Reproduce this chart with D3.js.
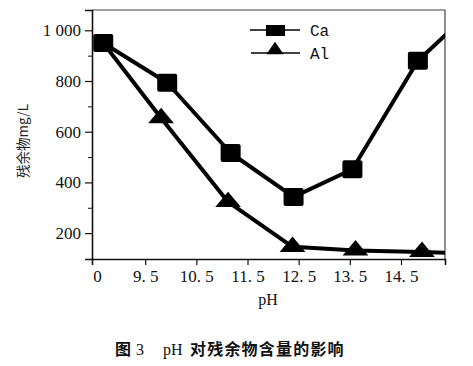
<!DOCTYPE html>
<html><head><meta charset="utf-8">
<script src="https://cdn.jsdelivr.net/npm/d3@7/dist/d3.min.js"></script>
<style>body{margin:0;background:#fff} text{white-space:pre}</style>
</head><body><svg id="c" width="473" height="366"></svg>
<script>
const caPH = [8.68, 9.93, 11.17, 12.4, 13.55, 14.83, 16.0];
const caVal = [950, 793, 516, 343, 452, 880, 1100];
const alPH = [8.68, 9.81, 11.12, 12.38, 13.61, 14.91, 16.0];
const alVal = [950, 654, 323, 146, 132, 126, 118];
const xTicks = [8.5, 9.5, 10.5, 11.5, 12.5, 13.5, 14.5];
const xTickLabels = ["0", "9. 5", "10. 5", "11. 5", "12. 5", "13. 5", "14. 5"];
const yTicks = [200, 400, 600, 800, 1000];
const yTickLabels = ["200", "400", "600", "800", "1 000"];
const yMinor = [300, 500, 700, 900];

const svg = d3.select("#c");
const L = 92, R = 445, T = 10, B = 259;
const x = d3.scaleLinear().domain([8.46, 15.36]).range([L, R]);
const y = d3.scaleLinear().domain([98, 1080]).range([B, T]);
const serif = "'Liberation Serif','DejaVu Serif',serif";
const mono = "'Liberation Mono','DejaVu Sans Mono',monospace";
const cjk = "'Noto Sans CJK SC',sans-serif";

svg.append("defs").append("clipPath").attr("id","clip")
  .append("rect").attr("x", L).attr("y", T).attr("width", R-L).attr("height", B-T);

// frame top/right
svg.append("path").attr("d", `M${L},${T}H${R}V${B}`).attr("fill","none").attr("stroke","#444").attr("stroke-width",1.2);

// x axis
const xa = svg.append("g").attr("transform", `translate(0,${B})`)
  .call(d3.axisBottom(x).tickValues(xTicks).tickFormat((d,i)=>xTickLabels[i]).tickSizeOuter(0).tickSize(6).tickPadding(5));
xa.attr("font-family", null).attr("font-size", null);
xa.select(".domain").attr("stroke","#111").attr("stroke-width",1.6);
xa.selectAll(".tick line").attr("stroke","#111").attr("stroke-width",1.2);
xa.selectAll(".tick").filter((d,i)=>i===0).select("line").remove();
xa.selectAll("text").style("font-family", serif).style("font-size", "17px").attr("fill","#111");
xa.selectAll(".tick").filter((d,i)=>i===0).select("text").attr("dx", 3);

// y axis
const ya = svg.append("g").attr("transform", `translate(${L},0)`)
  .call(d3.axisLeft(y).tickValues(yTicks).tickFormat((d,i)=>yTickLabels[i]).tickSizeOuter(0).tickSize(7).tickPadding(4));
ya.attr("font-family", null).attr("font-size", null);
ya.select(".domain").attr("stroke","#111").attr("stroke-width",1.6);
ya.selectAll(".tick line").attr("stroke","#111").attr("stroke-width",1.2);
ya.selectAll("text").style("font-family", serif).style("font-size", "17px").attr("fill","#111");
svg.append("g").attr("transform", `translate(${L},0)`)
  .call(d3.axisLeft(y).tickValues(yMinor).tickFormat("").tickSize(4))
  .call(g=>{g.select(".domain").remove(); g.selectAll("line").attr("stroke","#111");});

// series
const line = d3.line().x(d=>x(d[0])).y(d=>y(d[1]));
const plot = svg.append("g").attr("clip-path","url(#clip)");
const caData = caPH.map((p,i)=>[p, caVal[i]]);
const alData = alPH.map((p,i)=>[p, alVal[i]]);
plot.append("path").datum(alData).attr("d", line).attr("fill","none").attr("stroke","#000").attr("stroke-width",4).attr("stroke-linejoin","round");
plot.append("path").datum(caData).attr("d", line).attr("fill","none").attr("stroke","#000").attr("stroke-width",4).attr("stroke-linejoin","round");

plot.selectAll(".sq").data(caData.slice(0,6)).enter().append("rect")
  .attr("x", d=>x(d[0])-10).attr("y", d=>y(d[1])-9).attr("width",20).attr("height",18).attr("rx",2).attr("fill","#000");
const tri = d3.symbol().type(d3.symbolTriangle).size(170);
plot.selectAll(".tr").data(alData.slice(1,6)).enter().append("path")
  .attr("d", tri).attr("transform", d=>`translate(${x(d[0])},${y(d[1])}) scale(1.3,0.9)`).attr("fill","#000");

// legend
const lg = svg.append("g");
lg.append("line").attr("x1",250).attr("x2",300).attr("y1",30).attr("y2",30).attr("stroke","#000").attr("stroke-width",1.5);
lg.append("rect").attr("x",266).attr("y",25).attr("width",19).attr("height",11).attr("fill","#000");
lg.append("text").attr("x",310).attr("y",36).text("Ca").style("font-family",mono).style("font-size","16px").attr("fill","#111");
lg.append("line").attr("x1",251).attr("x2",300).attr("y1",53).attr("y2",53).attr("stroke","#000").attr("stroke-width",1.5);
lg.append("path").attr("d", d3.symbol().type(d3.symbolTriangle).size(90)).attr("transform","translate(275,50) scale(1.2,1)").attr("fill","#000");
lg.append("text").attr("x",310).attr("y",59).text("Al").style("font-family",mono).style("font-size","16px").attr("fill","#111");

// axis titles
svg.append("text").attr("x",268).attr("y",305).attr("text-anchor","middle").text("pH")
  .style("font-family", serif).style("font-size","16px").attr("fill","#111");
svg.append("text").attr("transform","translate(28,141) rotate(-90)").attr("text-anchor","middle")
  .style("font-family",cjk).style("font-size","13.5px").attr("fill","#222")
  .text("残余物mg/L");

// caption
const capY = 355;
svg.append("text").attr("x",115).attr("y",capY).style("font-family",cjk).style("font-weight","bold").style("font-size","16px").attr("fill","#111").text("图");
svg.append("text").attr("x",136).attr("y",capY).style("font-family",serif).style("font-size","16px").attr("fill","#111").text("3");
svg.append("text").attr("x",163).attr("y",capY).style("font-family",serif).style("font-size","16px").attr("fill","#111").text("pH");
svg.append("text").attr("x",190).attr("y",capY).style("font-family",cjk).style("font-weight","bold").style("font-size","16px").style("letter-spacing","1.2px").attr("fill","#111").text("对残余物含量的影响");
</script></body></html>
